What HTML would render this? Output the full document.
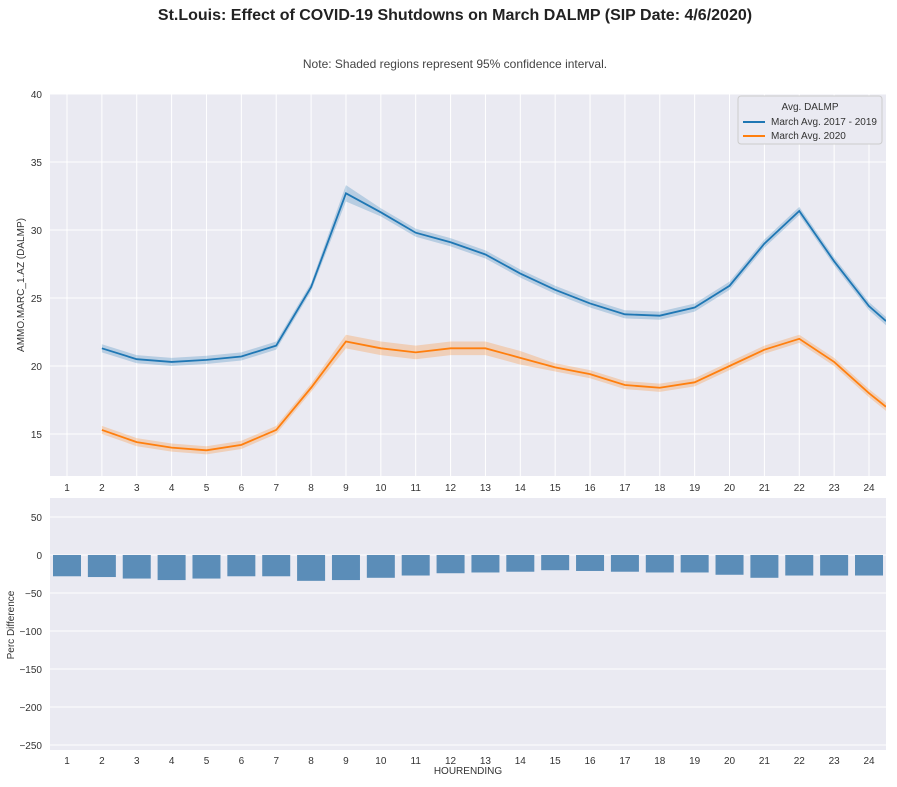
<!DOCTYPE html><html><head><meta charset="utf-8"><style>body{margin:0;background:#fff}svg text{font-family:"Liberation Sans",sans-serif}</style></head><body>
<svg id="s" width="897" height="782" xmlns="http://www.w3.org/2000/svg"></svg>
<script>
const s=document.getElementById('s');let h='';
h+='<text x="455" y="20" font-size="16" font-weight="bold" text-anchor="middle" fill="#222">St.Louis: Effect of COVID-19 Shutdowns on March DALMP (SIP Date: 4/6/2020)</text>';
h+='<text x="455" y="68" font-size="12" text-anchor="middle" fill="#444">Note: Shaded regions represent 95% confidence interval.</text>';
const X=i=>67+(i-1)*34.87;
// top
const L=50,R=886,T=94,B=476;const Y=v=>94+(40-v)*13.6;
h+=`<rect x="${L}" y="${T}" width="${R-L}" height="${B-T}" fill="#eaeaf2"/>`;
for(let v=15;v<=40;v+=5)h+=`<line x1="${L}" x2="${R}" y1="${Y(v)}" y2="${Y(v)}" stroke="#fff"/><text x="${L-8}" y="${Y(v)+4}" font-size="10" text-anchor="end" fill="#333">${v}</text>`;
for(let i=1;i<=24;i++)h+=`<line x1="${X(i)}" x2="${X(i)}" y1="${T}" y2="${B}" stroke="#fff"/><text x="${X(i)}" y="${B+15}" font-size="10" text-anchor="middle" fill="#333">${i}</text>`;
const b=[21.3,20.5,20.3,20.45,20.7,21.5,25.8,32.7,31.3,29.8,29.1,28.2,26.8,25.6,24.6,23.8,23.7,24.3,25.9,29.0,31.4,27.7,24.4,23.3];
const o=[15.3,14.4,14.0,13.8,14.2,15.3,18.4,21.8,21.3,21.0,21.3,21.3,20.6,19.9,19.4,18.6,18.4,18.8,20.0,21.2,22.0,20.3,18.0,17.0];
function ser(d,c,ci){let xs=d.map((v,k)=>k<23?X(k+2):R);let up=d.map((v,k)=>xs[k]+','+Y(v+ci(k))).join(' ');let dn=d.map((v,k)=>xs[k]+','+Y(v-ci(k))).reverse().join(' ');
h+=`<polygon points="${up} ${dn}" fill="${c}" opacity="0.25"/><polyline points="${d.map((v,k)=>xs[k]+','+Y(v)).join(' ')}" fill="none" stroke="${c}" stroke-width="1.8"/>`;}
h+=`<clipPath id="c"><rect x="${L}" y="${T}" width="${R-L}" height="${B-T}"/></clipPath><g clip-path="url(#c)">`;
ser(b,'#1f77b4',k=>k==7?0.6:0.3);ser(o,'#ff7f0e',k=>k>=7&&k<=12?0.5:0.3);h+='</g>';
h+=`<rect x="738" y="96" width="144" height="48" fill="#eaeaf2" stroke="#ccc" rx="3"/><text x="810" y="110" font-size="10" text-anchor="middle" fill="#333">Avg. DALMP</text>
<line x1="743" x2="765" y1="122" y2="122" stroke="#1f77b4" stroke-width="2"/><text x="771" y="125" font-size="10" fill="#333">March Avg. 2017 - 2019</text>
<line x1="743" x2="765" y1="136" y2="136" stroke="#ff7f0e" stroke-width="2"/><text x="771" y="139" font-size="10" fill="#333">March Avg. 2020</text>`;
h+=`<text x="24" y="285" font-size="10" text-anchor="middle" fill="#333" transform="rotate(-90 24 285)">AMMO.MARC_1.AZ (DALMP)</text>`;
// bottom
const T2=498,B2=750;const Y2=v=>555-v*0.76;
h+=`<rect x="${L}" y="${T2}" width="${R-L}" height="${B2-T2}" fill="#eaeaf2"/>`;
for(let v=-250;v<=50;v+=50)h+=`<line x1="${L}" x2="${R}" y1="${Y2(v)}" y2="${Y2(v)}" stroke="#fff"/><text x="${L-8}" y="${Y2(v)+4}" font-size="10" text-anchor="end" fill="#333">${v<0?'−'+(-v):v}</text>`;
const p=[-28,-29,-31,-33,-31,-28,-28,-34,-33,-30,-27,-24,-23,-22,-20,-21,-22,-23,-23,-26,-30,-27,-27,-27];
p.forEach((v,k)=>{h+=`<rect x="${X(k+1)-14}" y="555" width="28" height="${-v*0.76}" fill="#5b8db8"/>`;h+=`<text x="${X(k+1)}" y="${B2+14}" font-size="10" text-anchor="middle" fill="#333">${k+1}</text>`});
h+=`<text x="468" y="774" font-size="10" text-anchor="middle" fill="#333">HOURENDING</text>`;
h+=`<text x="14" y="625" font-size="10" text-anchor="middle" fill="#333" transform="rotate(-90 14 625)">Perc Difference</text>`;
s.innerHTML=h;
</script></body></html>
